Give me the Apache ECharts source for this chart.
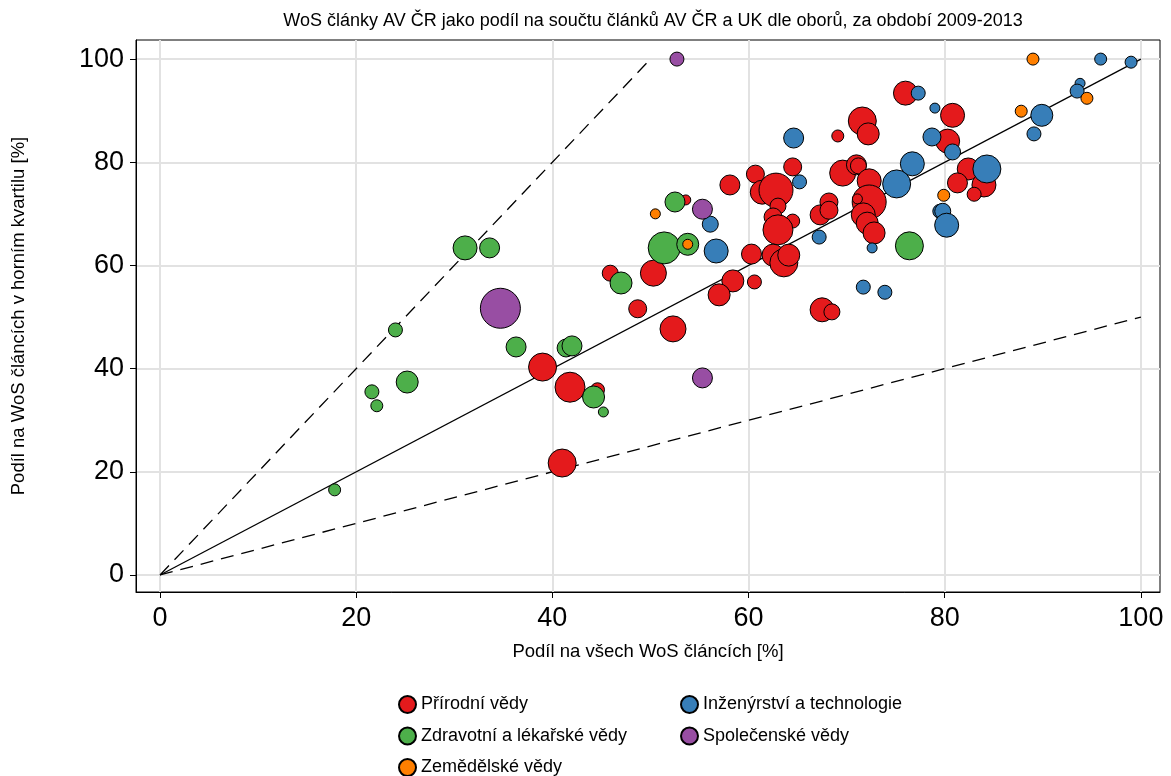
<!DOCTYPE html>
<html>
<head>
<meta charset="utf-8">
<script src="https://cdn.jsdelivr.net/npm/echarts@6/dist/echarts.min.js"></script>
<style>
  html, body { margin: 0; padding: 0; background: #fff; }
  #chart { width: 1171px; height: 776px; }
</style>
</head>
<body>
<div id="chart"></div>
<script>
// [podil na vsech clancich, podil v hornim kvartilu, velikost (pocet clanku)]
var prirodni = [
	[76.0, 93.4, 144], [71.6, 88.0, 196], [72.2, 85.5, 121], [69.1, 85.1, 36],
	[80.8, 89.1, 144], [80.3, 84.1, 144], [82.4, 78.7, 121], [81.3, 76.0, 100],
	[84.0, 75.6, 144], [83.0, 73.8, 49], [69.6, 77.9, 169], [71.0, 79.5, 100],
	[71.2, 79.3, 64], [72.3, 76.4, 144], [72.3, 72.3, 289], [71.1, 72.9, 25],
	[71.7, 69.8, 144], [72.1, 68.2, 121], [72.8, 66.3, 121], [58.1, 75.6, 100],
	[60.7, 77.7, 81], [64.5, 79.1, 81], [61.4, 74.2, 144], [62.8, 74.6, 289],
	[63.0, 71.5, 64], [62.5, 69.4, 81], [64.5, 68.6, 49], [63.0, 66.9, 225],
	[60.3, 62.2, 100], [62.5, 62.0, 121], [63.6, 60.5, 196], [64.1, 62.0, 121],
	[58.4, 57.0, 121], [57.0, 54.3, 121], [60.6, 56.8, 49], [48.7, 51.6, 81],
	[52.3, 47.7, 169], [50.3, 58.5, 169], [45.9, 58.5, 64], [67.3, 69.8, 100],
	[68.2, 72.3, 81], [68.2, 70.7, 81], [67.5, 51.4, 144], [68.5, 51.0, 64],
	[39.0, 40.3, 196], [44.6, 35.9, 49], [41.8, 36.4, 225], [41.0, 21.7, 196],
	[53.6, 72.7, 25]
];
var zdravotni = [
	[17.8, 16.5, 36], [21.6, 35.5, 49], [22.1, 32.8, 36], [25.2, 37.4, 121],
	[24.0, 47.5, 49], [31.1, 63.4, 144], [33.6, 63.4, 100], [36.3, 44.2, 100],
	[41.4, 44.0, 81], [42.0, 44.4, 100], [44.2, 34.5, 121], [45.2, 31.6, 25],
	[47.0, 56.6, 121], [52.5, 72.3, 100], [51.4, 63.4, 256], [53.8, 64.1, 121],
	[76.4, 63.8, 196]
];
var inzenyrstvi = [
	[95.9, 100.0, 36], [99.0, 99.4, 36], [93.8, 95.3, 25], [93.5, 93.8, 49],
	[89.9, 89.1, 121], [89.1, 85.5, 49], [77.3, 93.4, 49], [79.0, 90.5, 25],
	[78.7, 84.9, 81], [80.8, 82.0, 64], [76.7, 79.7, 144], [75.1, 75.8, 196],
	[84.3, 78.7, 196], [79.5, 70.5, 49], [79.8, 70.5, 64], [80.2, 67.8, 144],
	[72.6, 63.4, 25], [71.7, 55.8, 49], [73.9, 54.8, 49], [64.6, 84.7, 100],
	[65.2, 76.2, 49], [67.2, 65.5, 49], [56.1, 68.0, 64], [56.7, 62.8, 144]
];
var spolecenske = [
	[52.7, 100.0, 49], [34.7, 51.7, 400], [55.3, 70.9, 100], [55.3, 38.2, 100]
];
var zemedelske = [
	[89.0, 100.0, 36], [87.8, 89.9, 36], [94.5, 92.4, 36], [79.9, 73.6, 36],
	[50.5, 70.0, 25], [53.8, 64.1, 25]
];
var tickValues = [0, 20, 40, 60, 80, 100];

var chart = echarts.init(document.getElementById('chart'));

function bubbles(name, data, color) {
	return {
		name: name,
		type: 'scatter',
		data: data,
		symbolSize: function(v) { return 2 * Math.sqrt(v[2]); },
		itemStyle: { color: color, borderColor: '#000', borderWidth: 1, opacity: 1 },
		emphasis: { disabled: true },
		z: 3
	};
}

function refLine(data, dashed) {
	return {
		type: 'line',
		data: data,
		symbol: 'none',
		silent: true,
		lineStyle: { color: '#000', width: 1.3, type: dashed ? [13, 8] : 'solid' },
		z: 2
	};
}

var font = 'Liberation Sans, Arial, sans-serif';

var legendBase = {
	orient: 'vertical',
	top: 695,
	height: 120,
	padding: 0,
	itemGap: 12.5, itemWidth: 17, itemHeight: 17,
	icon: 'circle',
	textStyle: { fontFamily: font, fontSize: 18, color: '#000' }
};

var option = {
	animation: false,
	backgroundColor: '#fff',
	title: {
		text: 'WoS články AV ČR jako podíl na součtu článků AV ČR a UK dle oborů, za období 2009-2013',
		left: 648,
		textAlign: 'center',
		top: 7,
		textStyle: { fontFamily: font, fontSize: 18, fontWeight: 'normal', color: '#000' }
	},
	grid: {
		left: 136, top: 40, width: 1024, height: 552,
		show: true, borderColor: '#000', borderWidth: 1
	},
	xAxis: {
		type: 'value',
		min: -2.45, max: 101.95,
		name: 'Podíl na všech WoS článcích [%]',
		nameLocation: 'middle',
		nameGap: 50,
		nameTextStyle: { fontFamily: font, fontSize: 18.5, color: '#000' },
		axisLine: { show: true, onZero: false, lineStyle: { color: '#000' } },
		axisTick: { show: true, customValues: tickValues, length: 6, lineStyle: { color: '#000' } },
		axisLabel: { customValues: tickValues, fontFamily: font, fontSize: 27, color: '#000', margin: 13 },
		splitLine: { show: true, lineStyle: { color: '#e2e2e2', width: 2 } }
	},
	yAxis: {
		type: 'value',
		min: -3.3, max: 103.7,
		name: 'Podíl na WoS článcích v horním kvartilu [%]',
		nameLocation: 'middle',
		nameGap: 108,
		nameTextStyle: { fontFamily: font, fontSize: 18.5, color: '#000' },
		axisLine: { show: true, onZero: false, lineStyle: { color: '#000' } },
		axisTick: { show: true, customValues: tickValues, length: 6, lineStyle: { color: '#000' } },
		axisLabel: { customValues: tickValues, fontFamily: font, fontSize: 27, color: '#000', margin: 12 },
		splitLine: { show: true, lineStyle: { color: '#e2e2e2', width: 2 } }
	},
	legend: [
		Object.assign({}, legendBase, {
			data: ['Přírodní vědy', 'Zdravotní a lékařské vědy', 'Zemědělské vědy'],
			left: 398
		}),
		Object.assign({}, legendBase, {
			data: ['Inženýrství a technologie', 'Společenské vědy'],
			left: 680
		})
	],
	series: [
		refLine([[0, 0], [100, 100]], false),
		refLine([[0, 0], [50, 100]], true),
		refLine([[0, 0], [100, 50]], true),
		bubbles('Přírodní vědy', prirodni, '#e41a1c'),
		bubbles('Zdravotní a lékařské vědy', zdravotni, '#4daf4a'),
		bubbles('Inženýrství a technologie', inzenyrstvi, '#377eb8'),
		bubbles('Společenské vědy', spolecenske, '#984ea3'),
		bubbles('Zemědělské vědy', zemedelske, '#ff7f00')
	]
};

chart.setOption(option);
</script>
</body>
</html>
